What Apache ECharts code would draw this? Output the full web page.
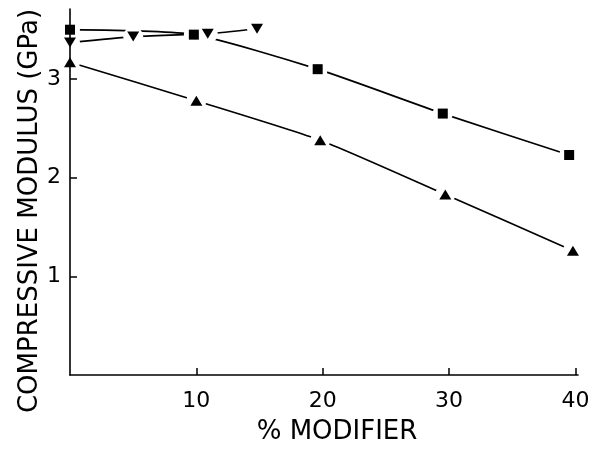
<!DOCTYPE html>
<html>
<head>
<meta charset="utf-8">
<script src="https://cdn.jsdelivr.net/npm/echarts@6/dist/echarts.min.js"></script>
<style>html,body{margin:0;padding:0;background:#fff}#c{width:603px;height:450px}</style>
</head>
<body>
<div id="c"></div>
<script>
// Data
const squareX = [0, 9.8, 19.6, 29.5, 39.5];
const squareY = [3.50, 3.45, 3.10, 2.65, 2.23];
const upTriX = [0, 10, 19.8, 29.7, 39.8];
const upTriY = [3.17, 2.78, 2.38, 1.83, 1.26];
const downTriX = [0, 5, 10.9, 14.8];
const downTriY = [3.37, 3.43, 3.46, 3.51];
const xTicks = [10, 20, 30, 40];
const yTicks = [1, 2, 3];

const zip = (xs, ys) => xs.map((x, i) => [x, ys[i]]);
const font = 'DejaVu Sans';

function makeSeries(name, data, symbol, size, rotate) {
  return [
    { name: name, type: 'line', smooth: 0.2, showSymbol: false, symbol: 'none', data: data,
      lineStyle: { color: '#000', width: 1.7 }, emphasis: { disabled: true }, z: 1 },
    { name: name + '-halo', type: 'scatter', symbol: 'circle', symbolSize: 20, data: data,
      itemStyle: { color: '#ffffff', opacity: 1 }, emphasis: { disabled: true }, z: 10 },
    { name: name + '-mark', type: 'scatter', symbol: symbol, symbolSize: size, symbolRotate: rotate || 0, data: data,
      itemStyle: { color: '#000', opacity: 1 }, emphasis: { disabled: true }, z: 11 }
  ];
}

const chart = echarts.init(document.getElementById('c'), null, { renderer: 'canvas' });
chart.setOption({
  animation: false,
  backgroundColor: '#fff',
  grid: { left: 70, right: 25, top: 9, bottom: 70 },
  xAxis: {
    type: 'value', min: 0, max: 40.2, z: 12,
    axisLine: { lineStyle: { color: '#000', width: 1.6 } },
    axisTick: { inside: true, length: 7, customValues: xTicks, lineStyle: { color: '#000', width: 1.5 } },
    axisLabel: { customValues: xTicks, color: '#000', fontFamily: font, fontSize: 22, margin: 15 },
    splitLine: { show: false },
    name: '% MODIFIER', nameLocation: 'middle', nameGap: 44, nameMoveOverlap: false,
    nameTextStyle: { color: '#000', fontFamily: font, fontSize: 26, padding: [0, 0, 0, 26] }
  },
  yAxis: {
    type: 'value', min: 0, max: 3.71, z: 12,
    axisLine: { show: true, lineStyle: { color: '#000', width: 1.6 } },
    axisTick: { show: true, inside: true, length: 7, customValues: yTicks, lineStyle: { color: '#000', width: 1.5 } },
    axisLabel: { customValues: yTicks, color: '#000', fontFamily: font, fontSize: 22, margin: 9 },
    splitLine: { show: false },
    name: 'COMPRESSIVE MODULUS (GPa)', nameLocation: 'middle', nameGap: 27, nameMoveOverlap: false,
    nameTextStyle: { color: '#000', fontFamily: font, fontSize: 26, padding: [0, 38, 0, 0] }
  },
  series: [].concat(
    makeSeries('square', zip(squareX, squareY), 'rect', 10),
    makeSeries('up', zip(upTriX, upTriY), 'triangle', [12, 10]),
    makeSeries('down', zip(downTriX, downTriY), 'triangle', [12, 10], 180)
  )
});
</script>
</body>
</html>
